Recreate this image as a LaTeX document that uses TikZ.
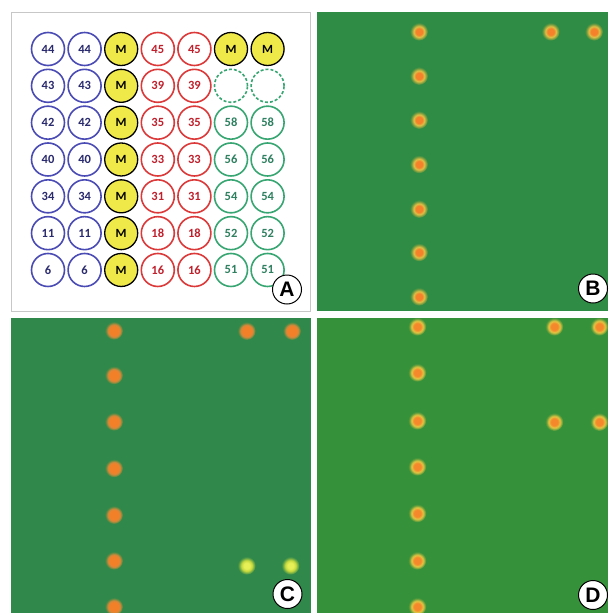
\documentclass[tikz,border=0pt]{standalone}
\usepackage{fontspec}
\setmainfont{Liberation Sans}
\newfontfamily\numfont{Carlito}
\definecolor{cblue}{HTML}{4B4BB5}
\definecolor{tblue}{HTML}{2A2A6E}
\definecolor{cred}{HTML}{DC3A3A}
\definecolor{tred}{HTML}{C0202C}
\definecolor{cgreen}{HTML}{38A672}
\definecolor{tgreen}{HTML}{2E8060}
\definecolor{myyellow}{HTML}{F0E94A}
\definecolor{bgB}{HTML}{2F8C44}
\definecolor{bgC}{HTML}{30894A}
\definecolor{bgD}{HTML}{36923A}
\definecolor{coreB}{HTML}{F5822A}
\definecolor{haloB}{HTML}{DCC046}
\definecolor{fadeB}{HTML}{84A040}
\definecolor{coreC}{HTML}{F28028}
\definecolor{haloC}{HTML}{D8883A}
\definecolor{fadeC}{HTML}{808A40}
\definecolor{coreY}{HTML}{E8F058}
\definecolor{haloY}{HTML}{C4D83E}
\definecolor{fadeY}{HTML}{76AE44}
\definecolor{coreD}{HTML}{F5882A}
\definecolor{haloD}{HTML}{E4CA44}
\definecolor{fadeD}{HTML}{8CAA3D}
\pgfdeclareradialshading{spotB}{\pgfpoint{0bp}{0bp}}{color(0bp)=(coreB); color(9bp)=(coreB); color(15bp)=(haloB); color(20bp)=(fadeB); color(25bp)=(bgB); color(50bp)=(bgB)}
\pgfdeclareradialshading{spotC}{\pgfpoint{0bp}{0bp}}{color(0bp)=(coreC); color(12bp)=(coreC); color(17bp)=(haloC); color(21bp)=(fadeC); color(25bp)=(bgC); color(50bp)=(bgC)}
\pgfdeclareradialshading{spotY}{\pgfpoint{0bp}{0bp}}{color(0bp)=(coreY); color(8bp)=(coreY); color(15bp)=(haloY); color(20bp)=(fadeY); color(25bp)=(bgC); color(50bp)=(bgC)}
\pgfdeclareradialshading{spotD}{\pgfpoint{0bp}{0bp}}{color(0bp)=(coreD); color(10bp)=(coreD); color(16bp)=(haloD); color(20bp)=(fadeD); color(25bp)=(bgD); color(50bp)=(bgD)}
\begin{document}
\begin{tikzpicture}[x=1pt,y=-1pt,
  base/.style={circle, minimum size=33pt, inner sep=0pt, line width=1.6pt,
    font=\numfont\bfseries\fontsize{12.5}{12.5}\selectfont},
  bc/.style={base, draw=cblue, text=tblue},
  rc/.style={base, draw=cred, text=tred},
  gc/.style={base, draw=cgreen, text=tgreen},
  mc/.style={base, draw=black, fill=myyellow, line width=1.3pt, text=black},
  dc/.style={base, draw=cgreen, dash pattern=on 3pt off 2pt},
  lbl/.style={circle, draw=black, fill=white, line width=1pt, minimum size=29pt,
    inner sep=0pt, font=\bfseries\fontsize{21}{21}\selectfont}]
\useasboundingbox (0,0) rectangle (608,613);
\fill[white] (0,0) rectangle (608,613);
% panel A
\draw[black!22, line width=0.8pt] (11,12) rectangle (310,311);
\foreach \j/\n/\m in {0/44/45,1/43/39,2/42/35,3/40/33,4/34/31,5/11/18,6/6/16} {
  \pgfmathsetmacro\yy{49+36.83*\j}
  \node[bc] (a-\j-1) at (48,\yy) {\n};
  \node[bc] (a-\j-2) at (84.6,\yy) {\n};
  \node[mc] (a-\j-3) at (121.2,\yy) {M};
  \node[rc] (a-\j-4) at (157.8,\yy) {\m};
  \node[rc] (a-\j-5) at (194.4,\yy) {\m};
}
\node[mc] (a-0-6) at (231,49) {M};
\node[mc] (a-0-7) at (267.6,49) {M};
\node[dc] (a-1-6) at (231,85.8) {};
\node[dc] (a-1-7) at (267.6,85.8) {};
\foreach \j/\g in {2/58,3/56,4/54,5/52,6/51} {
  \pgfmathsetmacro\yy{49+36.83*\j}
  \node[gc] (a-\j-6) at (231,\yy) {\g};
  \node[gc] (a-\j-7) at (267.6,\yy) {\g};
}
\node[lbl] (labA) at (287,289.5) {A};
% panel B
\fill[bgB] (317,12) rectangle (608,311);
\begin{scope}
  \clip (317,12) rectangle (608,311);
  \foreach \x/\y in {419/31.7,550.7/31.7,594/31.7,419/76,419/120,419/164.3,419/209,419/252.3,419/296.7}
    \shade[shading=spotB] (\x,\y) circle (9pt);
\end{scope}
\node[lbl] (labB) at (593,288.5) {B};
% panel C
\fill[bgC] (11,318) rectangle (311,613);
\begin{scope}
  \clip (11,318) rectangle (311,613);
  \foreach \x/\y in {114/330.7,246.7/331,292/331,114/375.3,114/421.7,114/468.3,114/515,114/560.7,114/606.7}
    \shade[shading=spotC] (\x,\y) circle (9pt);
  \foreach \x/\y in {246.7/565.7,290.5/565.7}
    \shade[shading=spotY] (\x,\y) circle (9pt);
\end{scope}
\node[lbl] (labC) at (287.5,594) {C};
% panel D
\fill[bgD] (317,318) rectangle (608,613);
\begin{scope}
  \clip (317,318) rectangle (608,613);
  \foreach \x/\y in {417.3/326.7,554.3/326.7,599.3/326.7,417.3/372.7,417.3/420.7,554.3/422,599.3/422,417.3/466.7,417.3/513.3,417.3/560.7,417.3/606.7}
    \shade[shading=spotD] (\x,\y) circle (9pt);
\end{scope}
\node[lbl] (labD) at (593,595) {D};
\end{tikzpicture}
\end{document}
